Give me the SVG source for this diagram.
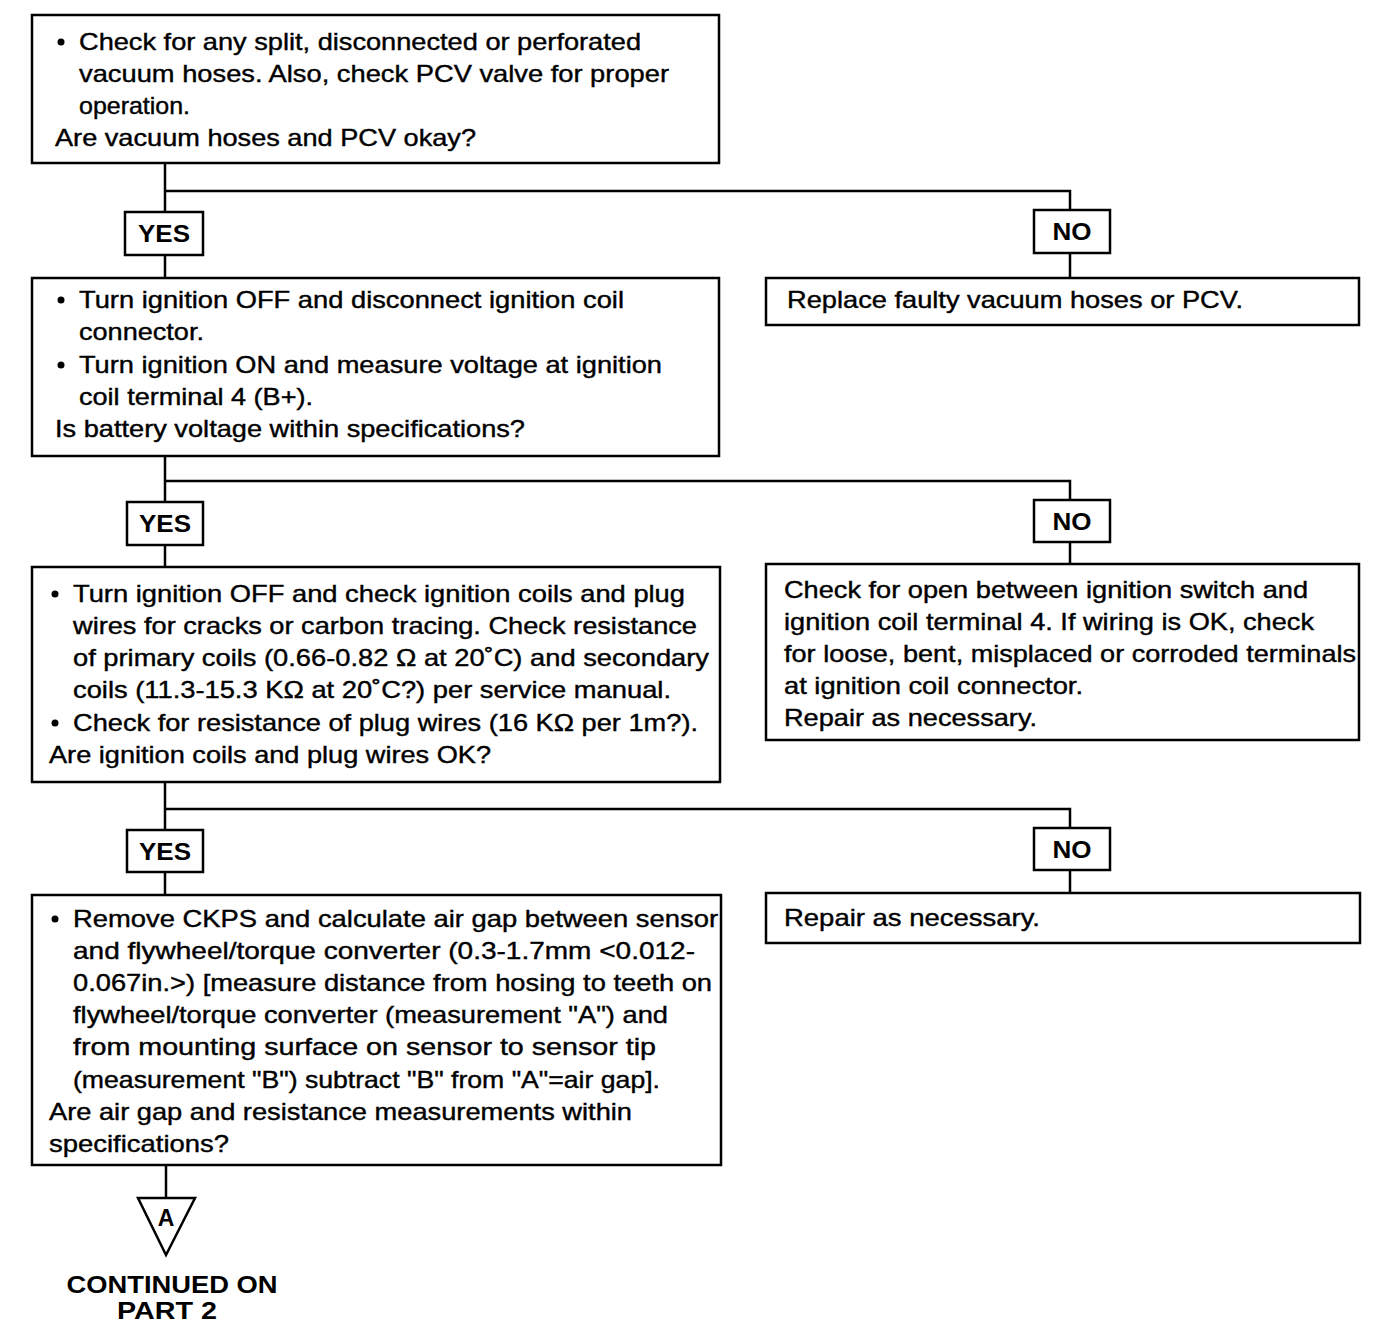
<svg xmlns="http://www.w3.org/2000/svg" width="1392" height="1336" viewBox="0 0 1392 1336">
<style>
.box{fill:#fff;stroke:#000;stroke-width:2.5}
.lbl{fill:#fff;stroke:#000;stroke-width:2.5}
.t{font-family:"Liberation Sans",Arial,sans-serif;font-size:24px;fill:#000;stroke:#000;stroke-width:0.4}
.b{font-family:"Liberation Sans",Arial,sans-serif;font-size:23px;font-weight:bold;fill:#000}
.c{font-family:"Liberation Sans",Arial,sans-serif;font-size:24px;font-weight:bold;fill:#000}
.ln{fill:none;stroke:#000;stroke-width:2.5}
</style>
<rect width="1392" height="1336" fill="#fff"/>
<g id="connectors">
<path class="ln" d="M165 163V212M165 191H1070V211M165 255V278M1070 253V278"/>
<path class="ln" d="M165 456V502M165 481H1070V500M165 545V567M1070 542V564"/>
<path class="ln" d="M165 782V830M165 809H1070V828M165 872V895M1070 870V893"/>
<path class="ln" d="M166 1165V1198"/>
</g>
<g id="n1">
<rect class="box" x="32" y="15" width="687" height="148"/>
<circle cx="61" cy="42" r="3.5"/>
<text class="t" x="79" y="50" textLength="562" lengthAdjust="spacingAndGlyphs">Check for any split, disconnected or perforated</text>
<text class="t" x="79" y="82" textLength="590" lengthAdjust="spacingAndGlyphs">vacuum hoses. Also, check PCV valve for proper</text>
<text class="t" x="79" y="114" textLength="111" lengthAdjust="spacingAndGlyphs">operation.</text>
<text class="t" x="55" y="146" textLength="421" lengthAdjust="spacingAndGlyphs">Are vacuum hoses and PCV okay?</text>
</g>
<g id="yes1"><rect class="lbl" x="125" y="212" width="78" height="43"/><text class="b" x="164" y="242" text-anchor="middle" textLength="52" lengthAdjust="spacingAndGlyphs">YES</text></g>
<g id="no1"><rect class="lbl" x="1034" y="210" width="76" height="43"/><text class="b" x="1072" y="240" text-anchor="middle" textLength="39" lengthAdjust="spacingAndGlyphs">NO</text></g>
<g id="n2">
<rect class="box" x="32" y="278" width="687" height="178"/>
<circle cx="61" cy="300" r="3.5"/>
<text class="t" x="79" y="308" textLength="545" lengthAdjust="spacingAndGlyphs">Turn ignition OFF and disconnect ignition coil</text>
<text class="t" x="79" y="340" textLength="125" lengthAdjust="spacingAndGlyphs">connector.</text>
<circle cx="61" cy="365" r="3.5"/>
<text class="t" x="79" y="373" textLength="583" lengthAdjust="spacingAndGlyphs">Turn ignition ON and measure voltage at ignition</text>
<text class="t" x="79" y="405" textLength="234" lengthAdjust="spacingAndGlyphs">coil terminal 4 (B+).</text>
<text class="t" x="55" y="437" textLength="470" lengthAdjust="spacingAndGlyphs">Is battery voltage within specifications?</text>
</g>
<g id="no1box">
<rect class="box" x="766" y="278" width="593" height="47"/>
<text class="t" x="787" y="308" textLength="456" lengthAdjust="spacingAndGlyphs">Replace faulty vacuum hoses or PCV.</text>
</g>
<g id="yes2"><rect class="lbl" x="127" y="502" width="76" height="43"/><text class="b" x="165" y="532" text-anchor="middle" textLength="52" lengthAdjust="spacingAndGlyphs">YES</text></g>
<g id="no2"><rect class="lbl" x="1034" y="500" width="76" height="42"/><text class="b" x="1072" y="530" text-anchor="middle" textLength="39" lengthAdjust="spacingAndGlyphs">NO</text></g>
<g id="n3">
<rect class="box" x="32" y="567" width="688" height="215"/>
<circle cx="55" cy="594" r="3.5"/>
<text class="t" x="73" y="602" textLength="612" lengthAdjust="spacingAndGlyphs">Turn ignition OFF and check ignition coils and plug</text>
<text class="t" x="73" y="634" textLength="624" lengthAdjust="spacingAndGlyphs">wires for cracks or carbon tracing. Check resistance</text>
<text class="t" x="73" y="666" textLength="636" lengthAdjust="spacingAndGlyphs">of primary coils (0.66-0.82 Ω at 20˚C) and secondary</text>
<text class="t" x="73" y="698" textLength="598" lengthAdjust="spacingAndGlyphs">coils (11.3-15.3 KΩ at 20˚C?) per service manual.</text>
<circle cx="55" cy="723" r="3.5"/>
<text class="t" x="73" y="731" textLength="625" lengthAdjust="spacingAndGlyphs">Check for resistance of plug wires (16 KΩ per 1m?).</text>
<text class="t" x="49" y="763" textLength="442" lengthAdjust="spacingAndGlyphs">Are ignition coils and plug wires OK?</text>
</g>
<g id="no2box">
<rect class="box" x="766" y="564" width="593" height="176"/>
<text class="t" x="784" y="598" textLength="524" lengthAdjust="spacingAndGlyphs">Check for open between ignition switch and</text>
<text class="t" x="784" y="630" textLength="530" lengthAdjust="spacingAndGlyphs">ignition coil terminal 4. If wiring is OK, check</text>
<text class="t" x="784" y="662" textLength="572" lengthAdjust="spacingAndGlyphs">for loose, bent, misplaced or corroded terminals</text>
<text class="t" x="784" y="694" textLength="299" lengthAdjust="spacingAndGlyphs">at ignition coil connector.</text>
<text class="t" x="784" y="726" textLength="253" lengthAdjust="spacingAndGlyphs">Repair as necessary.</text>
</g>
<g id="yes3"><rect class="lbl" x="127" y="830" width="76" height="42"/><text class="b" x="165" y="860" text-anchor="middle" textLength="52" lengthAdjust="spacingAndGlyphs">YES</text></g>
<g id="no3"><rect class="lbl" x="1034" y="828" width="76" height="42"/><text class="b" x="1072" y="858" text-anchor="middle" textLength="39" lengthAdjust="spacingAndGlyphs">NO</text></g>
<g id="n4">
<rect class="box" x="32" y="895" width="689" height="270"/>
<circle cx="55" cy="919" r="3.5"/>
<text class="t" x="73" y="927" textLength="645" lengthAdjust="spacingAndGlyphs">Remove CKPS and calculate air gap between sensor</text>
<text class="t" x="73" y="959" textLength="622" lengthAdjust="spacingAndGlyphs">and flywheel/torque converter (0.3-1.7mm &lt;0.012-</text>
<text class="t" x="73" y="991" textLength="639" lengthAdjust="spacingAndGlyphs">0.067in.&gt;) [measure distance from hosing to teeth on</text>
<text class="t" x="73" y="1023" textLength="595" lengthAdjust="spacingAndGlyphs">flywheel/torque converter (measurement "A") and</text>
<text class="t" x="73" y="1055" textLength="583" lengthAdjust="spacingAndGlyphs">from mounting surface on sensor to sensor tip</text>
<text class="t" x="73" y="1088" textLength="587" lengthAdjust="spacingAndGlyphs">(measurement "B") subtract "B" from "A"=air gap].</text>
<text class="t" x="49" y="1120" textLength="583" lengthAdjust="spacingAndGlyphs">Are air gap and resistance measurements within</text>
<text class="t" x="49" y="1152" textLength="180" lengthAdjust="spacingAndGlyphs">specifications?</text>
</g>
<g id="no3box">
<rect class="box" x="766" y="893" width="594" height="50"/>
<text class="t" x="784" y="926" textLength="256" lengthAdjust="spacingAndGlyphs">Repair as necessary.</text>
</g>
<g id="contA">
<polygon class="ln" points="138,1198 195,1198 166,1255"/>
<text class="b" x="166" y="1226" text-anchor="middle" font-size="20">A</text>
<text class="c" x="172" y="1293" text-anchor="middle" textLength="211" lengthAdjust="spacingAndGlyphs">CONTINUED ON</text>
<text class="c" x="167" y="1319" text-anchor="middle" textLength="100" lengthAdjust="spacingAndGlyphs">PART  2</text>
</g>
</svg>
